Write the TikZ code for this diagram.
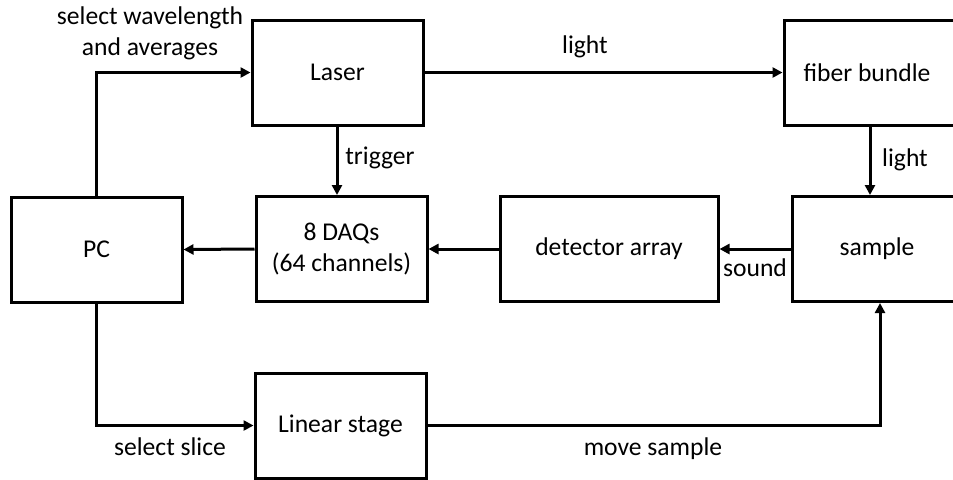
\documentclass[tikz,border=0pt]{standalone}
\usepackage{fontspec}
\setmainfont{Carlito}
\usepackage{tikz}
\usetikzlibrary{arrows.meta,positioning,calc}

\tikzset{
  block/.style={draw, line width=1.5pt, minimum width=85.5pt, minimum height=52.5pt, inner sep=0pt, align=center},
  arr/.style={line width=1.5pt, -{Triangle[length=5pt,width=5pt]}},
  lbl/.style={inner sep=0pt, align=center}
}

\begin{document}
\begin{tikzpicture}[x=0.5pt, y=-0.5pt, font=\fontsize{12.8}{15.5}\selectfont]
  \useasboundingbox (0,0) rectangle (953,479);
  \clip (0,0) rectangle (953,479);

  % Blocks
  \node[block] (laser) at (337.5, 72.5) {Laser};
  \node[block, minimum width=100pt] (fiber) at (884, 73) {};
  \node[lbl] (fibertxt) at (867, 73) {fiber bundle};
  \node[block] (pc) at (96.5, 249.5) {PC};
  \node[block] (daq) at (341.5, 249) {8 DAQs\\(64 channels)};
  \node[block, minimum width=109pt] (det) at (609, 249) {detector array};
  \node[block, minimum width=100pt] (sample) at (892, 249) {};
  \node[lbl] (sampletxt) at (877, 249) {sample};
  \node[block] (stage) at (340.5, 425.5) {Linear stage};

  % Connections
  \draw[arr] (pc.north) |- (laser.west);
  \draw[arr] (laser.east) -- (laser.east -| fiber.west);
  \draw[arr] (laser.south -| 337,0) -- (337,0 |- daq.north);
  \draw[arr] (fiber.south -| 870,0) -- (870,0 |- sample.north);
  \draw[arr] (sample.west) -- (det.east);
  \draw[arr] (det.west) -- (daq.east);
  \draw[arr] (daq.west) -- (pc.east);
  \draw[arr] (pc.south) |- (stage.west);
  \draw[arr] (stage.east) -| (sample.south -| 880,0);

  % Labels
  \node[lbl] (selwave) at (150, 33) {select wavelength\\and averages};
  \node[lbl] (light1) at (585, 47) {light};
  \node[lbl] (trig) at (380, 158) {trigger};
  \node[lbl] (light2) at (905, 160) {light};
  \node[lbl] (sound) at (755, 268) {sound};
  \node[lbl] (selslice) at (170, 447) {select slice};
  \node[lbl] (move) at (653, 449) {move sample};
\end{tikzpicture}
\end{document}
